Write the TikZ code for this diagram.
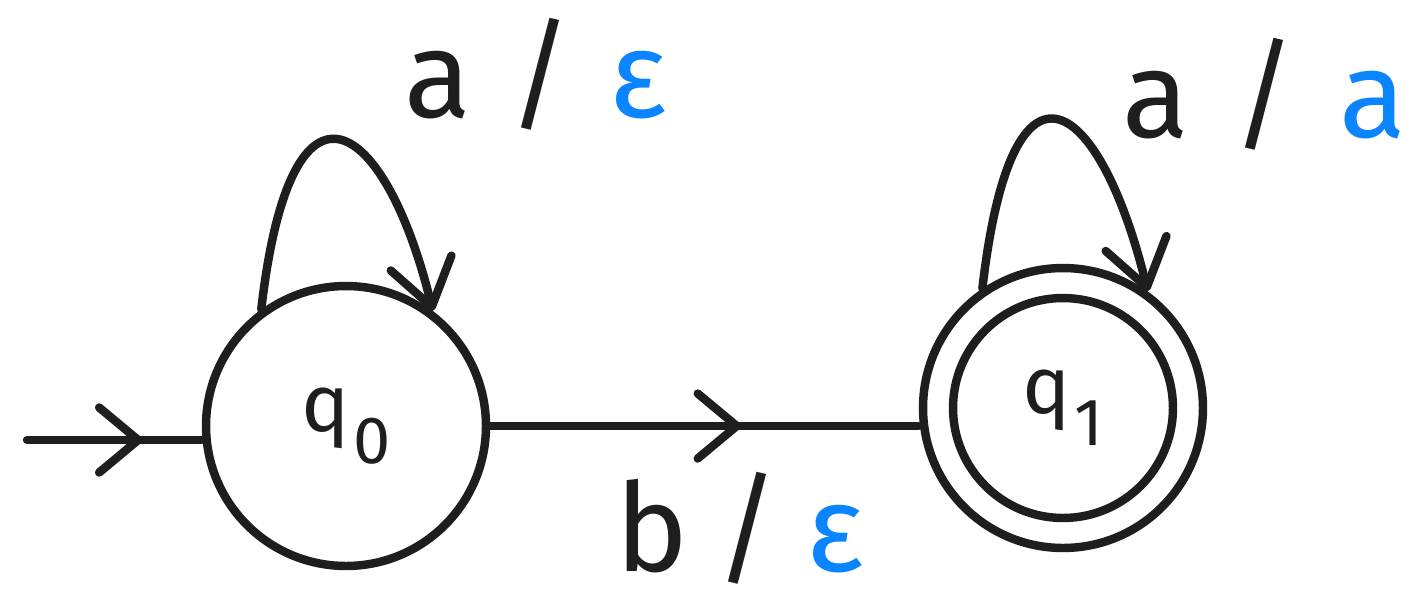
\documentclass[tikz,border=0pt]{standalone}
\usepackage{fontspec}
\setmainfont{Fira Sans}
\usetikzlibrary{arrows.meta,decorations.markings}
\definecolor{ink}{HTML}{1E1E1E}
\definecolor{pen}{HTML}{0A84FF}
\newcommand\labfont{\fontsize{70pt}{70pt}\selectfont}
\newcommand\qfont{\fontsize{46pt}{46pt}\selectfont}
\newcommand\subfont{\fontsize{38pt}{38pt}\selectfont}
\newcommand\qname[1]{q\kern2pt\raisebox{-18pt}{\subfont #1}}

\begin{document}
\begin{tikzpicture}[x=0.02cm, y=-0.02cm,
  stroke/.style={line width=4.8pt, line cap=round, line join=round, color=ink},
  state/.style={circle, draw, stroke, minimum size=5.6cm, inner sep=0pt, font=\qfont, text=ink},
  inner ring/.style={circle, draw, stroke, minimum size=4.4cm, inner sep=0pt},
  chev/.tip={Straight Barb[length=0.78cm, width=1.3cm, round]},
  loop tip/.tip={Straight Barb[length=0.9cm, width=1.25cm, round]},
  mid chevron/.style={postaction={decorate},
    decoration={markings, mark=at position #1 with {\arrow{chev}}}},
  lab/.style={font=\labfont, text=ink, inner sep=0pt}]

  % canvas
  \path[fill=white, use as bounding box] (0,0) rectangle (1424,603);

  % states
  \node[state] (q0) at (346,426) {\qname{0}};
  \node[state] (q1) at (1063,408) {\qname{1}};
  \node[inner ring] (q1in) at (q1) {};

  % initial arrow
  \coordinate (start) at (27,440);
  \draw[stroke, mid chevron=0.66] (start) -- (start -| q0.west);

  % q0 -> q1 on b
  \draw[stroke, mid chevron=0.585] (q0.east) -- (q0.east -| q1.west);

  % self loops on a
  \draw[stroke, -{loop tip}] (q0.126) .. controls +(30,-260) and +(-47,-192) .. (q0.53);
  \draw[stroke, -{loop tip}] (q1.124) .. controls +(30,-260) and +(-47,-192) .. (q1.54);

  % transition labels
  \node[lab] (l0) at (536,74) {a\hspace{0.3em}/\hspace{0.3em}\textcolor{pen}{ε}};
  \node[lab] (l1) at (1264,94) {a\hspace{0.35em}/\hspace{0.35em}\textcolor{pen}{a}};
  \node[lab] (l2) at (740,528) {b\hspace{0.22em}/\hspace{0.22em}\textcolor{pen}{ε}};
\end{tikzpicture}
\end{document}
